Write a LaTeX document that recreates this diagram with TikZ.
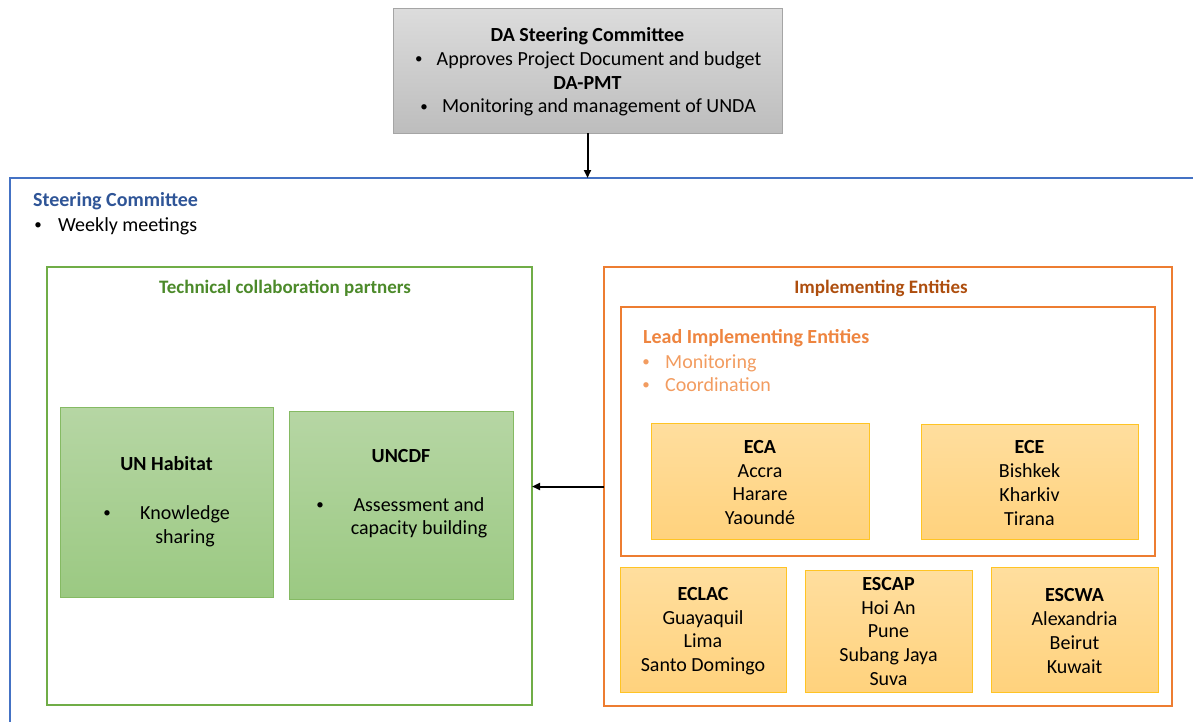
\documentclass[tikz,border=0pt]{standalone}
\usepackage{fontspec}
\usepackage{graphicx}
\setmainfont{Carlito}
\usetikzlibrary{arrows.meta}
\newlength\bulwd
\newcommand\bul{\settowidth\bulwd{\textbullet}\makebox[\bulwd]{\raisebox{0.08em}{\scalebox{0.75}{\textbullet}}}}
\definecolor{grayTop}{HTML}{DCDCDC}
\definecolor{grayBot}{HTML}{BDBDBD}
\definecolor{grayBorder}{HTML}{A5A5A5}
\definecolor{scBlue}{HTML}{4472C4}
\definecolor{scText}{HTML}{2F5597}
\definecolor{grn}{HTML}{70AD47}
\definecolor{grnTitle}{HTML}{4C8A2A}
\definecolor{grnTop}{HTML}{B6D6A4}
\definecolor{grnBot}{HTML}{9BC982}
\definecolor{grnBorder}{HTML}{85BA63}
\definecolor{org}{HTML}{ED7D31}
\definecolor{orgTitle}{HTML}{AE4E0E}
\definecolor{leadText}{HTML}{EE8540}
\definecolor{leadBullet}{HTML}{F29C60}
\definecolor{goldTop}{HTML}{FFDE9E}
\definecolor{goldBot}{HTML}{FFD27D}
\definecolor{goldBorder}{HTML}{FFC424}
\tikzset{
  txt/.style={font=\fontsize{20}{23.5}\selectfont, inner sep=0pt},
  boxbase/.style={inner sep=0pt, outer sep=0pt, align=center, font=\fontsize{20}{23.7}\selectfont},
  topbox/.style={boxbase, draw=grayBorder, line width=1pt, top color=grayTop, bottom color=grayBot},
  frame/.style={boxbase, draw=scBlue, line width=1.6pt},
  greenframe/.style={boxbase, draw=grn, line width=2pt},
  greenbox/.style={boxbase, draw=grnBorder, line width=1pt, top color=grnTop, bottom color=grnBot},
  orangeframe/.style={boxbase, draw=org, line width=2.5pt},
  leadframe/.style={boxbase, draw=org, line width=2pt},
  goldbox/.style={boxbase, draw=goldBorder, line width=1pt, top color=goldTop, bottom color=goldBot},
  arr/.style={line width=2pt, -{Triangle[length=8pt,width=7pt]}},
}
\begin{document}
\begin{tikzpicture}[x=1pt,y=-1pt]
\useasboundingbox (0,0) rectangle (1193,721);
% top box
\node[topbox, minimum width=389, minimum height=125] (top) at (587.5,70.5) {};
\node[boxbase] (toptext) at (587.5,72)
  {\textbf{DA Steering Committee}\\
   \bul\hspace{13pt}Approves Project Document and budget\\
   \textbf{DA-PMT}\\
   \bul\hspace{13pt}Monitoring and management of UNDA};
% steering committee frame (extends beyond the page)
\node[frame, minimum width=1200, minimum height=562] (sc) at (610,459) {};
\draw[arr] (top.south) -- (top.south |- sc.north);
\node[txt, anchor=base west, text=scText, font=\fontsize{20}{23.5}\selectfont\bfseries] (sctitle) at (33,206.5) {Steering Committee};
\node[txt, anchor=base west] (scbullet) at (33,231.5) {\bul\hspace{15pt}Weekly meetings};
% technical collaboration partners
\node[greenframe, minimum width=485, minimum height=438] (tcp) at (289.5,486) {};
\node[txt, anchor=base, text=grnTitle, font=\fontsize{19}{23}\selectfont\bfseries] (tcptitle) at (285,293.5) {Technical collaboration partners};
\node[greenbox, minimum width=213, minimum height=190] (unh) at (166.5,502) {};
\node[txt, anchor=base, font=\fontsize{20}{23.5}\selectfont\bfseries] (unhtitle) at (166.5,470.5) {UN Habitat};
\node[txt, anchor=base] (unhb) at (107,519.5) {\bul};
\node[txt, anchor=base] (unh1) at (185,519.5) {Knowledge};
\node[txt, anchor=base] (unh2) at (185,543) {sharing};
\node[greenbox, minimum width=224, minimum height=188] (uncdf) at (401,505) {};
\node[txt, anchor=base, font=\fontsize{20}{23.5}\selectfont\bfseries] (uncdftitle) at (401,462.5) {UNCDF};
\node[txt, anchor=base] (uncdfb) at (320,511.5) {\bul};
\node[txt, anchor=base] (uncdf1) at (419,511.5) {Assessment and};
\node[txt, anchor=base] (uncdf2) at (419,534.5) {capacity building};
% implementing entities
\node[orangeframe, minimum width=568, minimum height=439] (ie) at (888,486.5) {};
\node[txt, anchor=base, text=orgTitle, font=\fontsize{19}{23}\selectfont\bfseries] (ietitle) at (881,293.5) {Implementing Entities};
\draw[arr] (ie.west) -- (tcp.east |- ie.west);
\node[leadframe, minimum width=534, minimum height=249] (lead) at (888,431.5) {};
\node[txt, anchor=base west, text=leadText, font=\fontsize{20}{23.5}\selectfont\bfseries] (leadtitle) at (643,343.5) {Lead Implementing Entities};
\node[txt, anchor=base west, text=leadBullet] (lead1) at (641,368.5) {\bul\hspace{14pt}Monitoring};
\node[txt, anchor=base west, text=leadBullet] (lead2) at (641,391.5) {\bul\hspace{14pt}Coordination};
\node[goldbox, minimum width=218, minimum height=116] (eca) at (760,481) {};
\node[boxbase] (ecatext) at (760,482.5) {\textbf{ECA}\\Accra\\Harare\\Yaoundé};
\node[goldbox, minimum width=217, minimum height=115] (ece) at (1029.5,481.5) {};
\node[boxbase] (ecetext) at (1029.5,483) {\textbf{ECE}\\Bishkek\\Kharkiv\\Tirana};
\node[goldbox, minimum width=166, minimum height=125] (eclac) at (703,629.5) {};
\node[boxbase] (eclactext) at (703,631) {\textbf{ECLAC}\\Guayaquil\\Lima\\Santo Domingo};
\node[goldbox, minimum width=167, minimum height=122] (escap) at (888.5,631) {};
\node[boxbase] (escaptext) at (888.5,631.5) {\textbf{ESCAP}\\Hoi An\\Pune\\Subang Jaya\\Suva};
\node[goldbox, minimum width=167, minimum height=125] (escwa) at (1074.5,629.5) {};
\node[boxbase] (escwatext) at (1074.5,631) {\textbf{ESCWA}\\Alexandria\\Beirut\\Kuwait};
\end{tikzpicture}
\end{document}
